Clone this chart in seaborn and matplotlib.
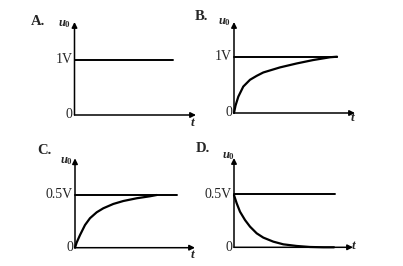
import matplotlib
matplotlib.use("Agg")
import matplotlib.pyplot as plt
import seaborn as sns

sns.set_style("white")
plt.rcParams['font.family'] = ['Liberation Serif', 'DejaVu Serif']
plt.rcParams['mathtext.fontset'] = 'custom'
plt.rcParams['mathtext.it'] = 'Liberation Serif:italic:bold'
plt.rcParams['mathtext.rm'] = 'Liberation Serif:bold'
plt.rcParams['mathtext.bf'] = 'Liberation Serif:bold'

# ---- data (time in arbitrary units, voltage in V) ----
panel_letters = ["A.", "B.", "C.", "D."]
level_labels = ["1V", "1V", "0.5V", "0.5V"]
levels = [1.0, 1.0, 0.5, 0.5]
line_end_t = [9.8, 10.3, 10.2, 10.1]

curve_B_t = [0, 0.15, 0.43, 0.93, 1.6, 2.27, 2.93, 4.6, 6.27, 7.9, 9.6, 10.3]
curve_B_u = [0, 0.13, 0.29, 0.47, 0.59, 0.66, 0.72, 0.81, 0.88, 0.94, 0.99, 1.0]

curve_C_t = [0, 0.17, 0.5, 1.0, 1.5, 2.17, 2.83, 3.83, 4.83, 6.17, 7.5, 8.17]
curve_C_u = [0, 0.05, 0.12, 0.215, 0.28, 0.336, 0.374, 0.415, 0.443, 0.469, 0.488, 0.5]

curve_D_t = [0, 0.27, 0.6, 1.1, 1.6, 2.27, 2.93, 3.93, 4.93, 6.27, 7.6, 8.93, 10.0]
curve_D_u = [0.49, 0.4125, 0.334, 0.256, 0.194, 0.131, 0.091, 0.053, 0.028, 0.0125, 0.003, 0.0, 0.0]

curves = [None, (curve_B_t, curve_B_u), (curve_C_t, curve_C_u), (curve_D_t, curve_D_u)]

# ---- layout (pixels) ----
W, H = 403, 266
origins = [(74.5, 115), (234, 113), (75, 247.7), (234, 247.3)]
x_ends = [196, 355, 195, 353]
y_tops = [22, 22, 158.3, 158]
px_per_unit_y = [55, 56.3, 52.7 / 0.5, 53.3 / 0.5]
letter_pos = [(31, 22), (195, 17), (37, 150), (196, 148)]
u_pos = [(58, 24), (218, 22), (60, 161), (222, 156)]
t_pos = [(190, 123), (350, 118), (190, 255), (351, 246)]

fig = plt.figure(figsize=(W / 100, H / 100), dpi=100)
fig.patch.set_facecolor("white")

def fx(x):
    return x / W

def fy(y):
    return 1 - y / H

for i in range(4):
    x0, y0 = origins[i]
    wpx = x_ends[i] - x0
    hpx = y0 - y_tops[i]
    ax = fig.add_axes([fx(x0), fy(y0), wpx / W, hpx / H])
    ax.set_xlim(0, wpx / 10)
    ax.set_ylim(0, hpx / px_per_unit_y[i])
    ax.axis("off")

    # axes with arrows
    ax.annotate("", xy=(1, 0), xytext=(0, 0), xycoords="axes fraction",
                arrowprops=dict(arrowstyle="-|>", color="black", lw=1.1,
                                mutation_scale=8, shrinkA=0, shrinkB=0))
    ax.annotate("", xy=(0, 1), xytext=(0, 0), xycoords="axes fraction",
                arrowprops=dict(arrowstyle="-|>", color="black", lw=1.1,
                                mutation_scale=8, shrinkA=0, shrinkB=0))

    # horizontal level line
    sns.lineplot(x=[0, line_end_t[i]], y=[levels[i], levels[i]], ax=ax,
                 color="black", lw=1.4, clip_on=False)
    if curves[i] is not None:
        ct, cu = curves[i]
        sns.lineplot(x=ct, y=cu, ax=ax, color="black", lw=1.6,
                     sort=False, clip_on=False)

    # tick labels
    ax.annotate(level_labels[i], xy=(0, levels[i]), xytext=(-2, 0),
                textcoords="offset pixels", ha="right", va="center",
                fontsize=10)
    ax.annotate("0", xy=(0, 0), xytext=(-2, 0), textcoords="offset pixels",
                ha="right", va="center", fontsize=10)

    fig.text(fx(letter_pos[i][0]), fy(letter_pos[i][1]), panel_letters[i],
             ha="left", va="center", fontsize=10.5, fontweight="bold")
    fig.text(fx(u_pos[i][0]), fy(u_pos[i][1]), r"$u_{\mathrm{0}}$",
             ha="left", va="center", fontsize=9)
    fig.text(fx(t_pos[i][0]), fy(t_pos[i][1]), r"$t$",
             ha="left", va="center", fontsize=9.5)

fig.savefig("out.png", dpi=100, facecolor="white")
